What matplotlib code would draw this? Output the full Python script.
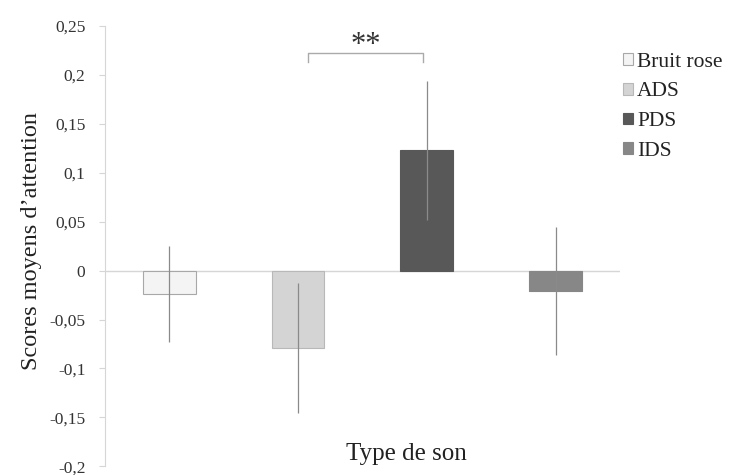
import matplotlib
matplotlib.use("Agg")
import matplotlib.pyplot as plt
from matplotlib.patches import Patch

# Mean attention scores per sound type, with error margins
categories = ["Bruit rose", "ADS", "PDS", "IDS"]
means = [-0.024, -0.079, 0.123, -0.021]
errors = [0.049, 0.066, 0.071, 0.065]
colors = ["#f4f4f4", "#d4d4d4", "#585858", "#878787"]
edges = ["#a8a8a8", "#b8b8b8", "#585858", "#878787"]
y_ticks = [-0.2, -0.15, -0.1, -0.05, 0, 0.05, 0.1, 0.15, 0.2, 0.25]
y_tick_labels = ["-0,2", "-0,15", "-0,1", "-0,05", "0", "0,05", "0,1", "0,15", "0,2", "0,25"]

plt.rcParams["font.family"] = ["Liberation Serif", "DejaVu Serif"]

fig = plt.figure(figsize=(7.39, 4.75), dpi=100)
ax = fig.add_axes([0.142, 0.018, 0.697, 0.928])

x = list(range(len(categories)))
ax.bar(x, means, width=0.41, color=colors, edgecolor=edges, linewidth=0.8, zorder=2)
ax.errorbar(x, means, yerr=errors, fmt="none", ecolor="#8a8a8a", elinewidth=0.9,
            capsize=0, zorder=3)

ax.axhline(0, color="#d6d6d6", linewidth=1.0, zorder=1)

ax.set_xlim(-0.5, 3.5)
ax.set_ylim(-0.2, 0.25)
ax.set_yticks(y_ticks)
ax.set_yticklabels(y_tick_labels, fontsize=12.5, color="#333333")
ax.set_xticks([])

for side in ["top", "right", "bottom"]:
    ax.spines[side].set_visible(False)
ax.spines["left"].set_color("#d6d6d6")
ax.tick_params(axis="y", length=4, color="#d6d6d6", pad=10)

ax.set_ylabel("Scores moyens d\u2019attention", fontsize=17.5, color="#222222")
ax.yaxis.set_label_coords(-0.122, 0.511)
ax.text(1.84, -0.187, "Type de son", fontsize=18, color="#222222", ha="center", va="center")

# Significance bracket between ADS and PDS
bx0, bx1, by = 1.08, 1.97, 0.222
ax.plot([bx0, bx0, bx1, bx1], [by - 0.009, by, by, by - 0.009], color="#aaaaaa",
        linewidth=1.0, clip_on=False)
ax.text((bx0 + bx1) / 2, by - 0.007, "**", fontsize=22, color="#333333",
        ha="center", va="bottom")

handles = [Patch(facecolor=c, edgecolor=e, linewidth=0.8) for c, e in zip(colors, edges)]
fig.legend(handles, categories, loc="upper left", bbox_to_anchor=(0.817, 0.93),
           frameon=False, fontsize=15.5, handlelength=0.45, handleheight=0.45,
           handletextpad=0.2, labelspacing=0.5, labelcolor="#222222")

fig.savefig("out.png", dpi=100)
